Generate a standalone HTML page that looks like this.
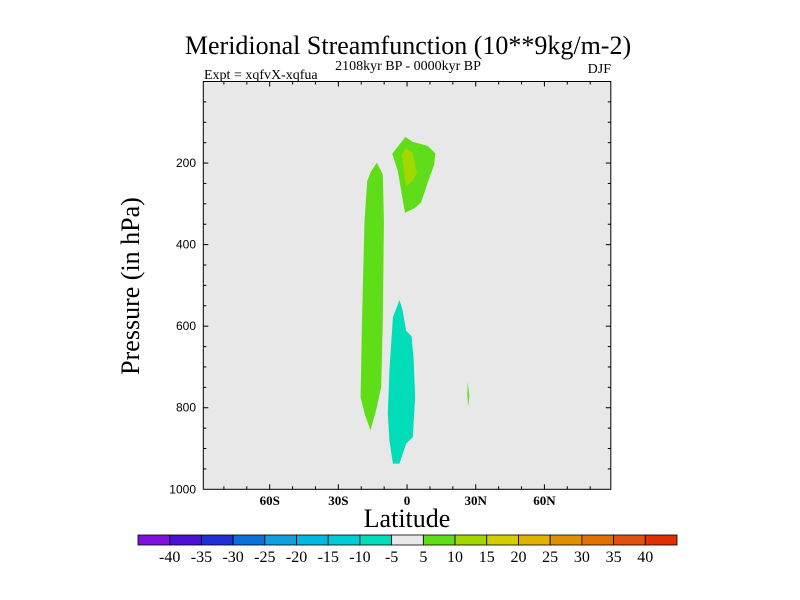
<!DOCTYPE html>
<html><head><meta charset="utf-8"><style>
html,body{margin:0;padding:0;background:#fff;width:800px;height:600px;overflow:hidden}
svg{display:block;font-family:"Liberation Serif",serif}
</style></head><body>
<svg id="chart" width="800" height="600" viewBox="0 0 800 600">
<text x="408" y="54" font-size="26" text-anchor="middle">Meridional Streamfunction (10**9kg/m-2)</text>
<text x="204" y="79" font-size="14">Expt = xqfvX-xqfua</text>
<text x="408" y="70" font-size="14" text-anchor="middle">2108kyr BP - 0000kyr BP</text>
<text x="611" y="73" font-size="14" text-anchor="end">DJF</text>
<text transform="translate(139,286) rotate(-90)" font-size="26" text-anchor="middle">Pressure (in hPa)</text>
<text x="407" y="527" font-size="26" text-anchor="middle">Latitude</text>
<g id="plot"></g>
<g id="cbar"></g>
</svg>
<script>
const latRange = [-89, 89];
const presRange = [0, 1000];
const xTickLats = [-60, -30, 0, 30, 60];
const xTickLabels = ["60S", "30S", "0", "30N", "60N"];
const yTickPres = [200, 400, 600, 800, 1000];
const yTickLabels = ["200", "400", "600", "800", "1000"];
const levelLabels = ["-40","-35","-30","-25","-20","-15","-10","-5","5","10","15","20","25","30","35","40"];
const levelColors = ["#8010E0","#4B10D8","#2030D8","#0870D8","#10A0E0","#00B8E0","#00CCD8","#00DDB8","#E8E8E8","#5EDD18","#A2D800","#D6CF00","#E2B200","#E09000","#E07000","#E05010","#E03000"];
// contour regions: [lat, pressure]
const regionPosLeft = [[-13.2,199],[-10.6,228],[-10.1,342],[-10.6,586],[-11.3,749],[-13.5,806],[-16.0,855],[-18.6,814],[-20.3,774],[-19.7,586],[-18.6,342],[-17.4,244],[-15.7,220]];
const regionPosTop = [[-0.7,136],[2.5,148],[9.0,158],[12.3,176],[11.9,203],[9.0,248],[6.1,297],[3.2,311],[-0.9,322],[-2.3,277],[-4.0,220],[-6.5,177]];
const regionPosTopInner = [[-0.4,163],[2.5,175],[4.3,224],[2.5,244],[-0.4,257],[-1.4,220],[-2.3,179]];
const regionNeg = [[-3.3,536],[-1.9,562],[-0.4,611],[2.0,625],[2.9,684],[3.5,774],[2.5,872],[-0.4,888],[-3.3,937],[-6.2,937],[-7.7,880],[-8.4,815],[-7.7,709],[-6.2,578]];
const regionPosSmall = [[26.5,737],[27.2,770],[26.8,798],[26.3,770]];

const X0=203.3, X1=610.8, Y0=81.5, Y1=489.3;
const xs = lat => X0 + (lat-latRange[0])/(latRange[1]-latRange[0])*(X1-X0);
const ys = p => Y0 + (p-presRange[0])/(presRange[1]-presRange[0])*(Y1-Y0);
const NS="http://www.w3.org/2000/svg";
function mk(tag, attrs, parent){const e=document.createElementNS(NS,tag);for(const k in attrs)e.setAttribute(k,attrs[k]);parent.appendChild(e);return e;}
const plot=document.getElementById('plot');
const bg=mk('rect',{x:X0,y:Y0,width:X1-X0,height:Y1-Y0,fill:'#E8E8E8'},plot);


const regions=[[regionPosLeft,levelColors[9],'contour-positive-sh'],[regionPosTop,levelColors[9],'contour-positive-upper'],[regionPosTopInner,levelColors[10],'contour-positive-upper-core'],[regionNeg,levelColors[7],'contour-negative'],[regionPosSmall,levelColors[9],'contour-positive-small']];
regions.forEach(r=>{
  const pg=mk('polygon',{points:r[0].map(d=>xs(d[0]).toFixed(1)+','+ys(d[1]).toFixed(1)).join(' '),fill:r[1]},plot);
  
  
});
const tk={stroke:'#000','stroke-width':1};
for(let lat=-80;lat<=80;lat+=10){
  const major=lat%30===0, L=major?5:3, x=xs(lat);
  mk('line',Object.assign({x1:x,x2:x,y1:Y1,y2:Y1-L},tk),plot);
  mk('line',Object.assign({x1:x,x2:x,y1:Y0,y2:Y0+L},tk),plot);
}
for(let p=50;p<1000;p+=50){
  const major=p%200===0, L=major?5:3, y=ys(p);
  mk('line',Object.assign({x1:X0,x2:X0+L,y1:y,y2:y},tk),plot);
  mk('line',Object.assign({x1:X1,x2:X1-L,y1:y,y2:y},tk),plot);
}
const frame=mk('rect',{x:X0,y:Y0,width:X1-X0,height:Y1-Y0,fill:'none',stroke:'#000','stroke-width':1},plot);


xTickLats.forEach((lat,i)=>{
  const t=mk('text',{x:xs(lat),y:505,'font-size':13,'font-weight':'bold','text-anchor':'middle'},plot);
  t.textContent=xTickLabels[i];
  
  
});
yTickPres.forEach((p,i)=>{
  const t=mk('text',{x:196,y:ys(p)+4,'font-size':12,'text-anchor':'end','font-family':'Liberation Sans, sans-serif'},plot);
  t.textContent=yTickLabels[i];
  
  
});
const cb=document.getElementById('cbar');
const CB0=138, CB1=677, n=levelColors.length, w=(CB1-CB0)/n;
levelColors.forEach((c,i)=>{
  const r=mk('rect',{x:CB0+i*w,y:535,width:w,height:10,fill:c,stroke:'#000','stroke-width':0.8},cb);
  
  
});
levelLabels.forEach((l,i)=>{
  const t=mk('text',{x:CB0+(i+1)*w,y:562,'font-size':16,'text-anchor':'middle'},cb);
  t.textContent=l;
  
  
});
</script>
</body></html>
